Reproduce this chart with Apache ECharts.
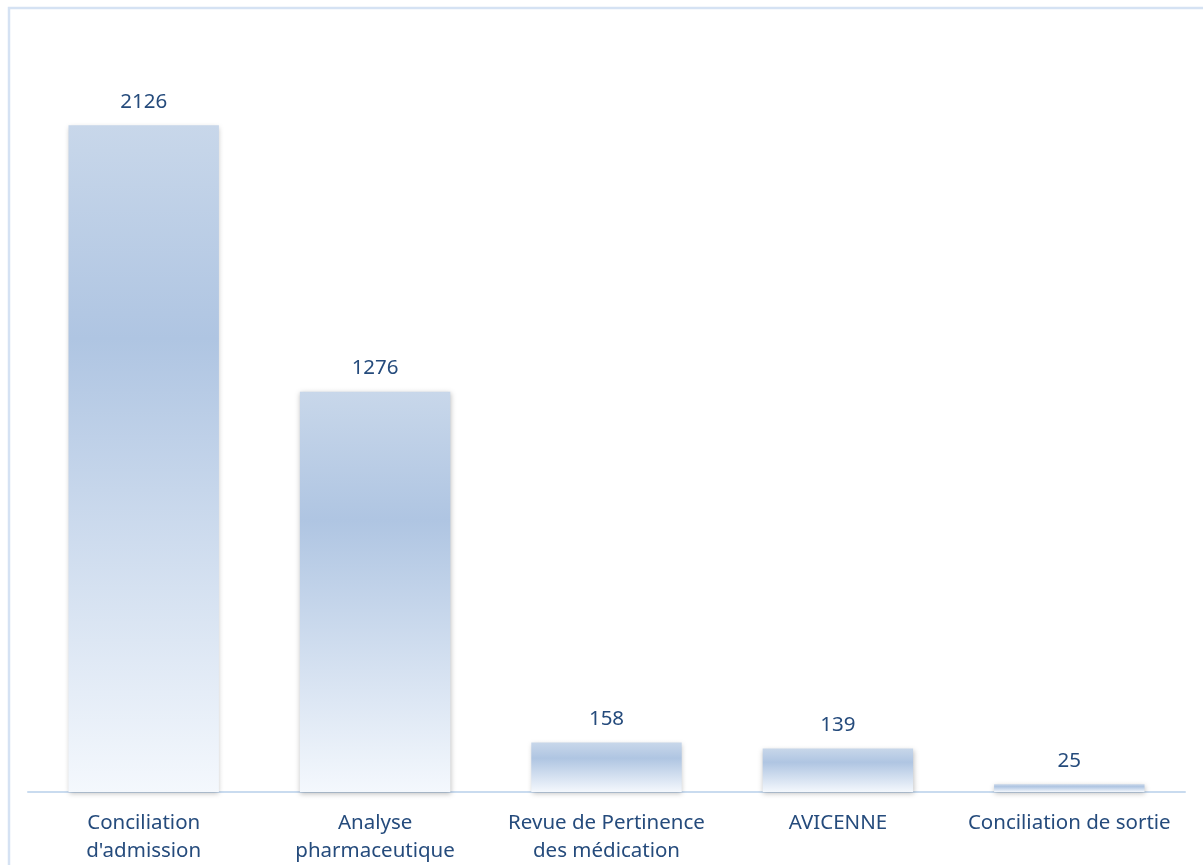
<!DOCTYPE html>
<html>
<head>
<meta charset="utf-8">
<script src="https://cdn.jsdelivr.net/npm/echarts@6/dist/echarts.min.js"></script>
<style>
html,body{margin:0;padding:0;background:#fff;}
#main{width:1203px;height:865px;}
</style>
</head>
<body>
<div id="main"></div>
<script>
const categories = ["Conciliation\nd'admission", "Analyse\npharmaceutique", "Revue de Pertinence\ndes médication", "AVICENNE", "Conciliation de sortie"];
const values = [2126, 1276, 158, 139, 25];

const chart = echarts.init(document.getElementById('main'));
const textColor = '#254b7c';
const font = '"Noto Sans", "Open Sans", sans-serif';
chart.setOption({
  animation: false,
  backgroundColor: '#ffffff',
  graphic: [{
    type: 'rect',
    shape: { x: 9, y: 8, width: 1300, height: 1000 },
    style: { fill: 'none', stroke: '#d5e2f3', lineWidth: 2.5 },
    silent: true
  }],
  grid: { left: 28, right: 18, top: 8, bottom: 72 },
  xAxis: {
    type: 'category',
    data: categories,
    axisLine: { show: true, lineStyle: { color: '#c9dbef', width: 2 } },
    axisTick: { show: false },
    axisLabel: {
      color: textColor, fontSize: 20.5, fontFamily: font,
      lineHeight: 28, margin: 17, interval: 0
    }
  },
  yAxis: {
    type: 'value', min: 0, max: 2500,
    show: false,
    splitLine: { show: false }
  },
  series: [{
    type: 'bar',
    data: values,
    barWidth: '65%',
    itemStyle: {
      color: {
        type: 'linear', x: 0, y: 0, x2: 0, y2: 1,
        colorStops: [
          { offset: 0, color: '#c8d7ea' },
          { offset: 0.32, color: '#afc5e2' },
          { offset: 1, color: '#f4f8fd' }
        ]
      },
      shadowColor: 'rgba(0,0,0,0.25)',
      shadowBlur: 5,
      shadowOffsetX: 0.5,
      shadowOffsetY: 1.5
    },
    label: {
      show: true, position: 'top', distance: 13,
      color: textColor, fontSize: 20.5, fontFamily: font
    }
  }]
});
</script>
</body>
</html>
